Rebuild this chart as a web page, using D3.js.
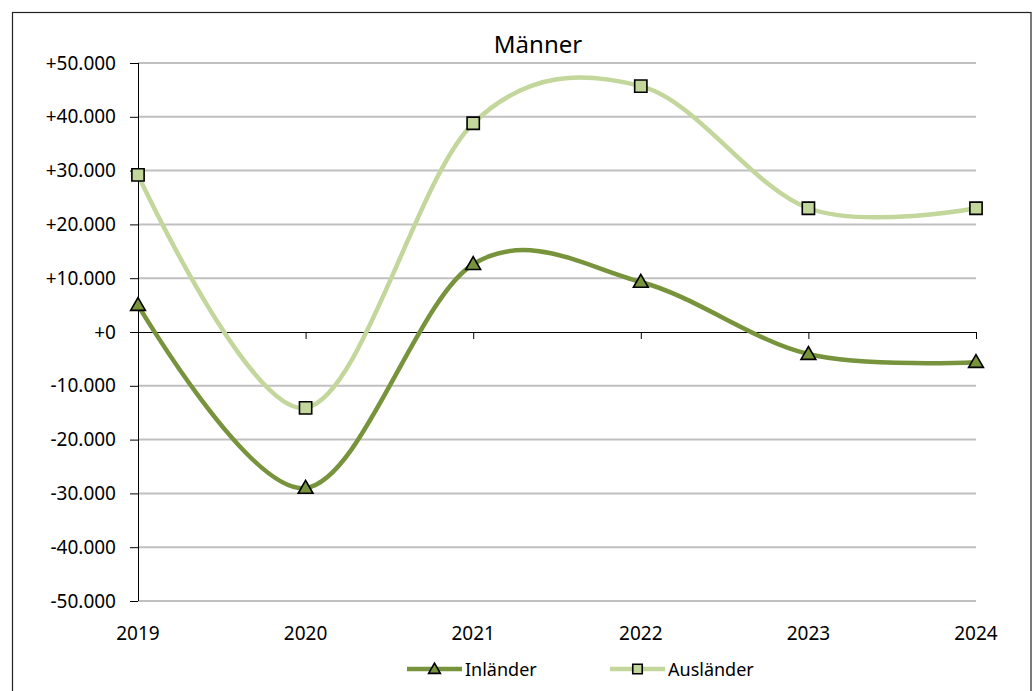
<!DOCTYPE html>
<html>
<head>
<meta charset="utf-8">
<script src="https://cdn.jsdelivr.net/npm/d3@7"></script>
<style>
  html, body { margin: 0; padding: 0; background: #fff; }
  svg text { font-family: "Noto Sans", "Open Sans", sans-serif; fill: #000; }
</style>
</head>
<body>
<svg id="chart" width="1035" height="691"></svg>
<script>
// Wanderungssaldo Männer, 2019–2024
const years = ["2019", "2020", "2021", "2022", "2023", "2024"];
const inlaender = [5000, -29000, 12600, 9300, -4100, -5600];
const auslaender = [29200, -14100, 38800, 45700, 23000, 23000];
const yTicks = [50000, 40000, 30000, 20000, 10000, 0, -10000, -20000, -30000, -40000, -50000];
const seriesNames = ["Inländer", "Ausländer"];

const colInl = "#77933c";
const colAus = "#c3d69b";

const svg = d3.select("#chart");

// outer frame
svg.append("rect")
  .attr("x", 12.5).attr("y", 12.5)
  .attr("width", 1018.5).attr("height", 700)
  .attr("fill", "#fff").attr("stroke", "#222").attr("stroke-width", 1.2);

const plotLeft = 138, plotRight = 976, plotTop = 63, plotBottom = 601;

const x = d3.scalePoint().domain(years).range([plotLeft, plotRight]);
const y = d3.scaleLinear().domain([-50000, 50000]).range([plotBottom, plotTop]);

const fmt = v => (v >= 0 ? "+" : "-") + d3.format(",")(Math.abs(v)).replace(/,/g, ".");

// gridlines
svg.append("g").selectAll("line")
  .data(yTicks.filter(d => d !== 0))
  .join("line")
  .attr("x1", plotLeft).attr("x2", plotRight)
  .attr("y1", d => y(d)).attr("y2", d => y(d))
  .attr("stroke", "#c0c0c0").attr("stroke-width", 2);

// y axis
const yAxis = svg.append("g")
  .attr("transform", `translate(${plotLeft},0)`)
  .call(d3.axisLeft(y).tickValues(yTicks).tickFormat(fmt).tickSize(8).tickPadding(14));
yAxis.select(".domain").attr("stroke", "#000").attr("d", `M0.5,${plotTop}V${plotBottom}`);
yAxis.selectAll(".tick line").attr("stroke", "#000");
yAxis.selectAll("text").style("font-size", "19px").attr("fill", "#000");

// x axis along the zero line
const xAxis = svg.append("g")
  .attr("transform", `translate(0,${y(0)})`)
  .call(d3.axisBottom(x).tickSize(7).tickFormat(""));
xAxis.select(".domain").attr("stroke", "#000").attr("d", `M${plotLeft},0.5H${plotRight}`);
xAxis.selectAll(".tick line").attr("stroke", "#000");

// year labels below the plot
svg.append("g").selectAll("text")
  .data(years)
  .join("text")
  .attr("x", d => x(d)).attr("y", 640)
  .attr("text-anchor", "middle")
  .style("font-size", "19px")
  .text(d => d);

// title
svg.append("text")
  .attr("x", 538).attr("y", 53)
  .attr("text-anchor", "middle")
  .style("font-size", "24px")
  .text("Männer");

const line = d3.line()
  .x((d, i) => x(years[i]))
  .y(d => y(d))
  .curve(d3.curveCatmullRom.alpha(0));

svg.append("path").datum(auslaender)
  .attr("d", line).attr("fill", "none")
  .attr("stroke", colAus).attr("stroke-width", 4.5);
svg.append("path").datum(inlaender)
  .attr("d", line).attr("fill", "none")
  .attr("stroke", colInl).attr("stroke-width", 4.5);

const sq = d3.symbol().type(d3.symbolSquare).size(150);
const tri = d3.symbol().type(d3.symbolTriangle).size(95);

svg.append("g").selectAll("path")
  .data(auslaender)
  .join("path")
  .attr("transform", (d, i) => `translate(${x(years[i])},${y(d)})`)
  .attr("d", sq)
  .attr("fill", colAus).attr("stroke", "#000").attr("stroke-width", 1.6);

svg.append("g").selectAll("path")
  .data(inlaender)
  .join("path")
  .attr("transform", (d, i) => `translate(${x(years[i])},${y(d) + 1})`)
  .attr("d", tri)
  .attr("fill", colInl).attr("stroke", "#000").attr("stroke-width", 1.6);

// legend
const legend = [
  { name: seriesNames[0], color: colInl, tri: true, x0: 407 },
  { name: seriesNames[1], color: colAus, tri: false, x0: 610 }
];
const ly = 669;
legend.forEach(l => {
  svg.append("line")
    .attr("x1", l.x0).attr("x2", l.x0 + 55)
    .attr("y1", ly).attr("y2", ly)
    .attr("stroke", l.color).attr("stroke-width", 4.5);
  svg.append("path")
    .attr("transform", `translate(${l.x0 + 27.5},${ly + (l.tri ? 1 : 0)})`)
    .attr("d", l.tri ? d3.symbol().type(d3.symbolTriangle).size(60)() : d3.symbol().type(d3.symbolSquare).size(90)())
    .attr("fill", l.color).attr("stroke", "#000").attr("stroke-width", 1.6);
  svg.append("text")
    .attr("x", l.x0 + 58).attr("y", ly + 6.5)
    .style("font-size", "18px")
    .text(l.name);
});
</script>
</body>
</html>
